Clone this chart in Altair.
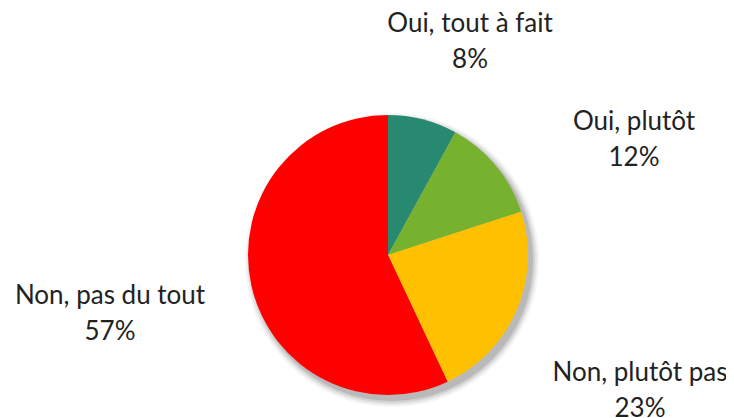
import altair as alt
import pandas as pd

categories = ["Oui, tout à fait", "Oui, plutôt", "Non, plutôt pas", "Non, pas du tout"]
values = [8, 12, 23, 57]
colors = ["#278A70", "#77B22F", "#FFC000", "#FF0000"]

df = pd.DataFrame({"cat": categories, "val": values, "order": list(range(len(values)))})
df["label"] = [[c, f"{v}%"] for c, v in zip(categories, values)]

W, H = 718, 410
CX, CY, R = 380, 247, 140
FONT = "Lato"

# shadow (soft, offset)
shadow_df = pd.DataFrame({"v": [1]})
shadow_layers = []
for dr, op in [(7, 0.06), (5, 0.1), (3, 0.14), (1, 0.2)]:
    shadow_layers.append(
        alt.Chart(shadow_df).mark_arc(color="#5a5a5a", opacity=op).encode(
            theta=alt.Theta("v:Q", scale=alt.Scale(domain=[0, 1])),
            radius=alt.value(R + dr),
            x=alt.value(CX + 4),
            y=alt.value(CY + 5),
        )
    )
shadow = alt.layer(*shadow_layers)

pie = alt.Chart(df).mark_arc().encode(
    theta=alt.Theta("val:Q", stack=True),
    order=alt.Order("order:Q"),
    color=alt.Color("cat:N", scale=alt.Scale(domain=categories, range=colors), legend=None),
    radius=alt.value(R),
    x=alt.value(CX),
    y=alt.value(CY),
)

label_pos = {
    "Oui, tout à fait": (462, 16),
    "Oui, plutôt": (626, 114),
    "Non, plutôt pas": (632, 365),
    "Non, pas du tout": (102, 288),
}
labels = []
for c in categories:
    px, py = label_pos[c]
    labels.append(
        alt.Chart(df).transform_filter(alt.datum.cat == c).mark_text(
            font=FONT, fontSize=26, color="#222222", align="center", baseline="middle",
            lineHeight=36,
        ).encode(text="label", x=alt.value(px), y=alt.value(py))
    )

chart = alt.layer(shadow, pie, *labels).resolve_scale(theta="independent").properties(
    width=W, height=H, padding=0,
    autosize=alt.AutoSizeParams(type="fit", contains="padding"),
).configure_view(stroke=None)

chart.save("out.html", embed_options={"renderer": "svg", "actions": False})
